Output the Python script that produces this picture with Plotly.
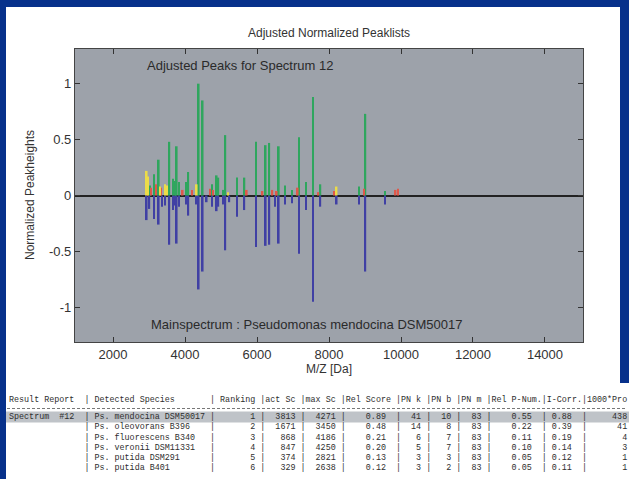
import plotly.graph_objects as go

# ---------------- data ----------------
green_mz = [3140, 3270, 3565, 3665, 3770, 3835, 4030, 4090, 4380, 4490, 4750, 4880, 4925, 5065,
            5120, 5445, 5650, 5970, 6240, 6340, 6605, 6780, 6970, 7165, 7360, 7555, 7760, 8835,
            9010, 9555, 3030, 3725]
green_h = [0.19, 0.32, 0.48, 0.15, 0.44, 0.12, 0.12, 0.21, 1.00, 0.85, 0.10, 0.18, 0.16, 0.05,
           0.54, 0.16, 0.16, 0.48, 0.45, 0.47, 0.44, 0.09, 0.05, 0.52, 0.12, 0.88, 0.10, 0.08,
           0.73, 0.04, 0.09, 0.13]

yellow_mz = [2936, 2975, 3305, 3444, 3500, 4325, 5195, 8210]
yellow_h = [0.22, 0.17, 0.08, 0.10, 0.09, 0.10, 0.03, 0.08]

red_mz = [3055, 3195, 3335, 3935, 4195, 4695, 4780, 5715, 6150, 6425, 6547, 7130, 7703, 8147,
          8972, 9850, 9917]
red_h = [0.07, 0.10, 0.07, 0.05, 0.05, 0.06, 0.05, 0.05, 0.04, 0.05, 0.04, 0.07, 0.03, 0.04,
         0.06, 0.05, 0.06]

blue_mz = [2936, 3008, 3138, 3269, 3361, 3444, 3564, 3667, 3722, 3769, 3833, 4028, 4091, 4325,
           4380, 4491, 4602, 4750, 4880, 4925, 5064, 5119, 5230, 5444, 5647, 5972, 6242, 6342,
           6500, 6603, 6778, 6972, 7167, 7361, 7556, 7758, 8213, 8834, 9009, 9556]
blue_h = [-0.22, -0.12, -0.21, -0.26, -0.10, -0.09, -0.44, -0.13, -0.09, -0.43, -0.10, -0.08,
          -0.18, -0.08, -0.84, -0.68, -0.06, -0.10, -0.14, -0.10, -0.08, -0.49, -0.06, -0.19,
          -0.13, -0.46, -0.45, -0.44, -0.10, -0.43, -0.08, -0.07, -0.52, -0.13, -0.95, -0.10,
          -0.08, -0.08, -0.68, -0.08]

x_ticks = [2000, 4000, 6000, 8000, 10000, 12000, 14000]
x_ticktext = ["2000", "4000", "6000", "8000", "10000", "12000", "14000"]
y_ticks = [-1, -0.5, 0, 0.5, 1]
y_ticktext = ["-1", "-0.5", "0", "0.5", "1"]

species = ["Ps. mendocina DSM50017", "Ps. oleovorans B396", "Ps. fluorescens B340",
           "Ps. veronii DSM11331", "Ps. putida DSM291", "Ps. putida B401"]
ranking = [1, 2, 3, 4, 5, 6]
act_sc = [3813, 1671, 868, 847, 374, 329]
max_sc = [4271, 3450, 4186, 4250, 2821, 2638]
rel_score = [0.89, 0.48, 0.21, 0.20, 0.13, 0.12]
pn_k = [41, 14, 6, 5, 3, 3]
pn_b = [10, 8, 7, 7, 3, 2]
pn_m = [83, 83, 83, 83, 83, 83]
rel_pnum = [0.55, 0.22, 0.11, 0.10, 0.05, 0.05]
i_corr = [0.88, 0.39, 0.19, 0.14, 0.12, 0.11]
pro = [438, 41, 4, 3, 1, 1]

# ---------------- layout geometry ----------------
W, H = 629, 479
L, R, T, B = 75, 583, 49, 342


def px(x):
    return (x - L) / (R - L)


def py(y):
    return (B - y) / (B - T)


fig = go.Figure()
bw = 48
fig.add_trace(go.Bar(x=blue_mz, y=blue_h, width=bw, marker=dict(color="#4040a4", line_width=0)))
fig.add_trace(go.Bar(x=green_mz, y=green_h, width=bw, marker=dict(color="#2fa65e", line_width=0)))
fig.add_trace(go.Bar(x=red_mz, y=red_h, width=bw, marker=dict(color="#e0584a", line_width=0)))
fig.add_trace(go.Bar(x=yellow_mz, y=yellow_h, width=bw, marker=dict(color="#ecdc48", line_width=0)))

sans = "Liberation Sans, Arial, sans-serif"
mono = "Liberation Mono, Courier New, monospace"

fig.update_layout(
    width=W, height=H,
    margin=dict(l=L, r=W - R, t=T, b=H - B, pad=0),
    paper_bgcolor="white",
    plot_bgcolor="#9da2aa",
    barmode="overlay",
    showlegend=False,
    font=dict(family=sans, size=13, color="#333333"),
)
fig.update_xaxes(
    range=[944, 15056], tickvals=x_ticks, ticktext=x_ticktext, ticks="inside", ticklen=5,
    tickcolor="#333", showline=True, linecolor="#444", linewidth=1.2, mirror="ticks",
    showgrid=False, zeroline=False, tickfont=dict(size=13, color="#333"),
)
fig.update_yaxes(
    range=[-1.31, 1.31], tickvals=y_ticks, ticktext=y_ticktext, ticks="inside", ticklen=5,
    tickcolor="#333", showline=True, linecolor="#444", linewidth=1.2, mirror="ticks",
    showgrid=False, zeroline=True, zerolinecolor="#222", zerolinewidth=1.5,
    tickfont=dict(size=13, color="#333"),
)

ann = []
ann.append(dict(text="Adjusted Normalized Peaklists", x=px(329), y=py(33), xref="paper", yref="paper",
                xanchor="center", yanchor="middle", showarrow=False, font=dict(size=12, color="#333")))
ann.append(dict(text="Adjusted Peaks for Spectrum 12", x=px(145), y=py(65), xref="paper", yref="paper",
                xanchor="left", yanchor="middle", showarrow=False, font=dict(size=13, color="#2a2a2a")))
ann.append(dict(text="Mainspectrum : Pseudomonas mendocina DSM50017", x=px(149), y=py(324), xref="paper",
                yref="paper", xanchor="left", yanchor="middle", showarrow=False,
                font=dict(size=13, color="#2a2a2a")))
ann.append(dict(text="M/Z [Da]", x=px(329), y=py(369), xref="paper", yref="paper",
                xanchor="center", yanchor="middle", showarrow=False, font=dict(size=12, color="#333")))
ann.append(dict(text="Normalized Peakheights", x=px(30), y=py(195), xref="paper", yref="paper",
                xanchor="center", yanchor="middle", showarrow=False, textangle=-90,
                font=dict(size=12, color="#333")))

# ---------------- table text ----------------
NB = "\u00a0"


def nb(s):
    return s.replace(" ", NB)


header = ("Result Report  " + "| " + "Detected Species".ljust(23) + "| Ranking " + "|act Sc " +
          "|max Sc " + "|Rel Score " + "|PN k " + "|PN b " + "|PN m " + "|Rel P-Num." +
          "|I-Corr." + "|1000*Pro")
lines = []
for i in range(len(species)):
    left = "Spectrum  #12  " if i == 0 else " " * 15
    lines.append(f"{left}| {species[i]:<23}|{ranking[i]:>8} |{act_sc[i]:>6} |{max_sc[i]:>6} "
                 f"|{rel_score[i]:>8.2f}  |{pn_k[i]:>4} |{pn_b[i]:>4} |{pn_m[i]:>4} "
                 f"|{rel_pnum[i]:>8.2f}  |{i_corr[i]:>5.2f}  |{pro[i]:>8}")

tfont = dict(family=mono, size=8.4, color="#2e2e2e")
ann.append(dict(text=nb(header), x=px(7), y=py(399.5), xref="paper", yref="paper", xanchor="left",
                yanchor="middle", showarrow=False, font=tfont))
for i, ln in enumerate(lines):
    ann.append(dict(text=nb(ln), x=px(7), y=py(417 + 10.3 * i), xref="paper", yref="paper",
                    xanchor="left", yanchor="middle", showarrow=False, font=tfont))
fig.update_layout(annotations=ann)

shapes = []
# highlighted first row
shapes.append(dict(type="rect", xref="paper", yref="paper", x0=px(6), x1=px(629), y0=py(411.5),
                   y1=py(422.5), fillcolor="#bfc3c8", line_width=0, layer="below"))
# dashed separator under the header
shapes.append(dict(type="line", xref="paper", yref="paper", x0=px(7), x1=px(625), y0=py(408.5),
                   y1=py(408.5), line=dict(color="#777", width=1, dash="3px,2px"), layer="below"))
# blue frame
blue = "#07318b"
shapes.append(dict(type="rect", xref="paper", yref="paper", x0=px(0), x1=px(6), y0=py(0), y1=py(479),
                   fillcolor=blue, line_width=0, layer="above"))
shapes.append(dict(type="rect", xref="paper", yref="paper", x0=px(0), x1=px(629), y0=py(0), y1=py(7),
                   fillcolor=blue, line_width=0, layer="above"))
shapes.append(dict(type="rect", xref="paper", yref="paper", x0=px(620), x1=px(629), y0=py(0), y1=py(383),
                   fillcolor=blue, line_width=0, layer="above"))
fig.update_layout(shapes=shapes)

fig.write_html("out.html")
